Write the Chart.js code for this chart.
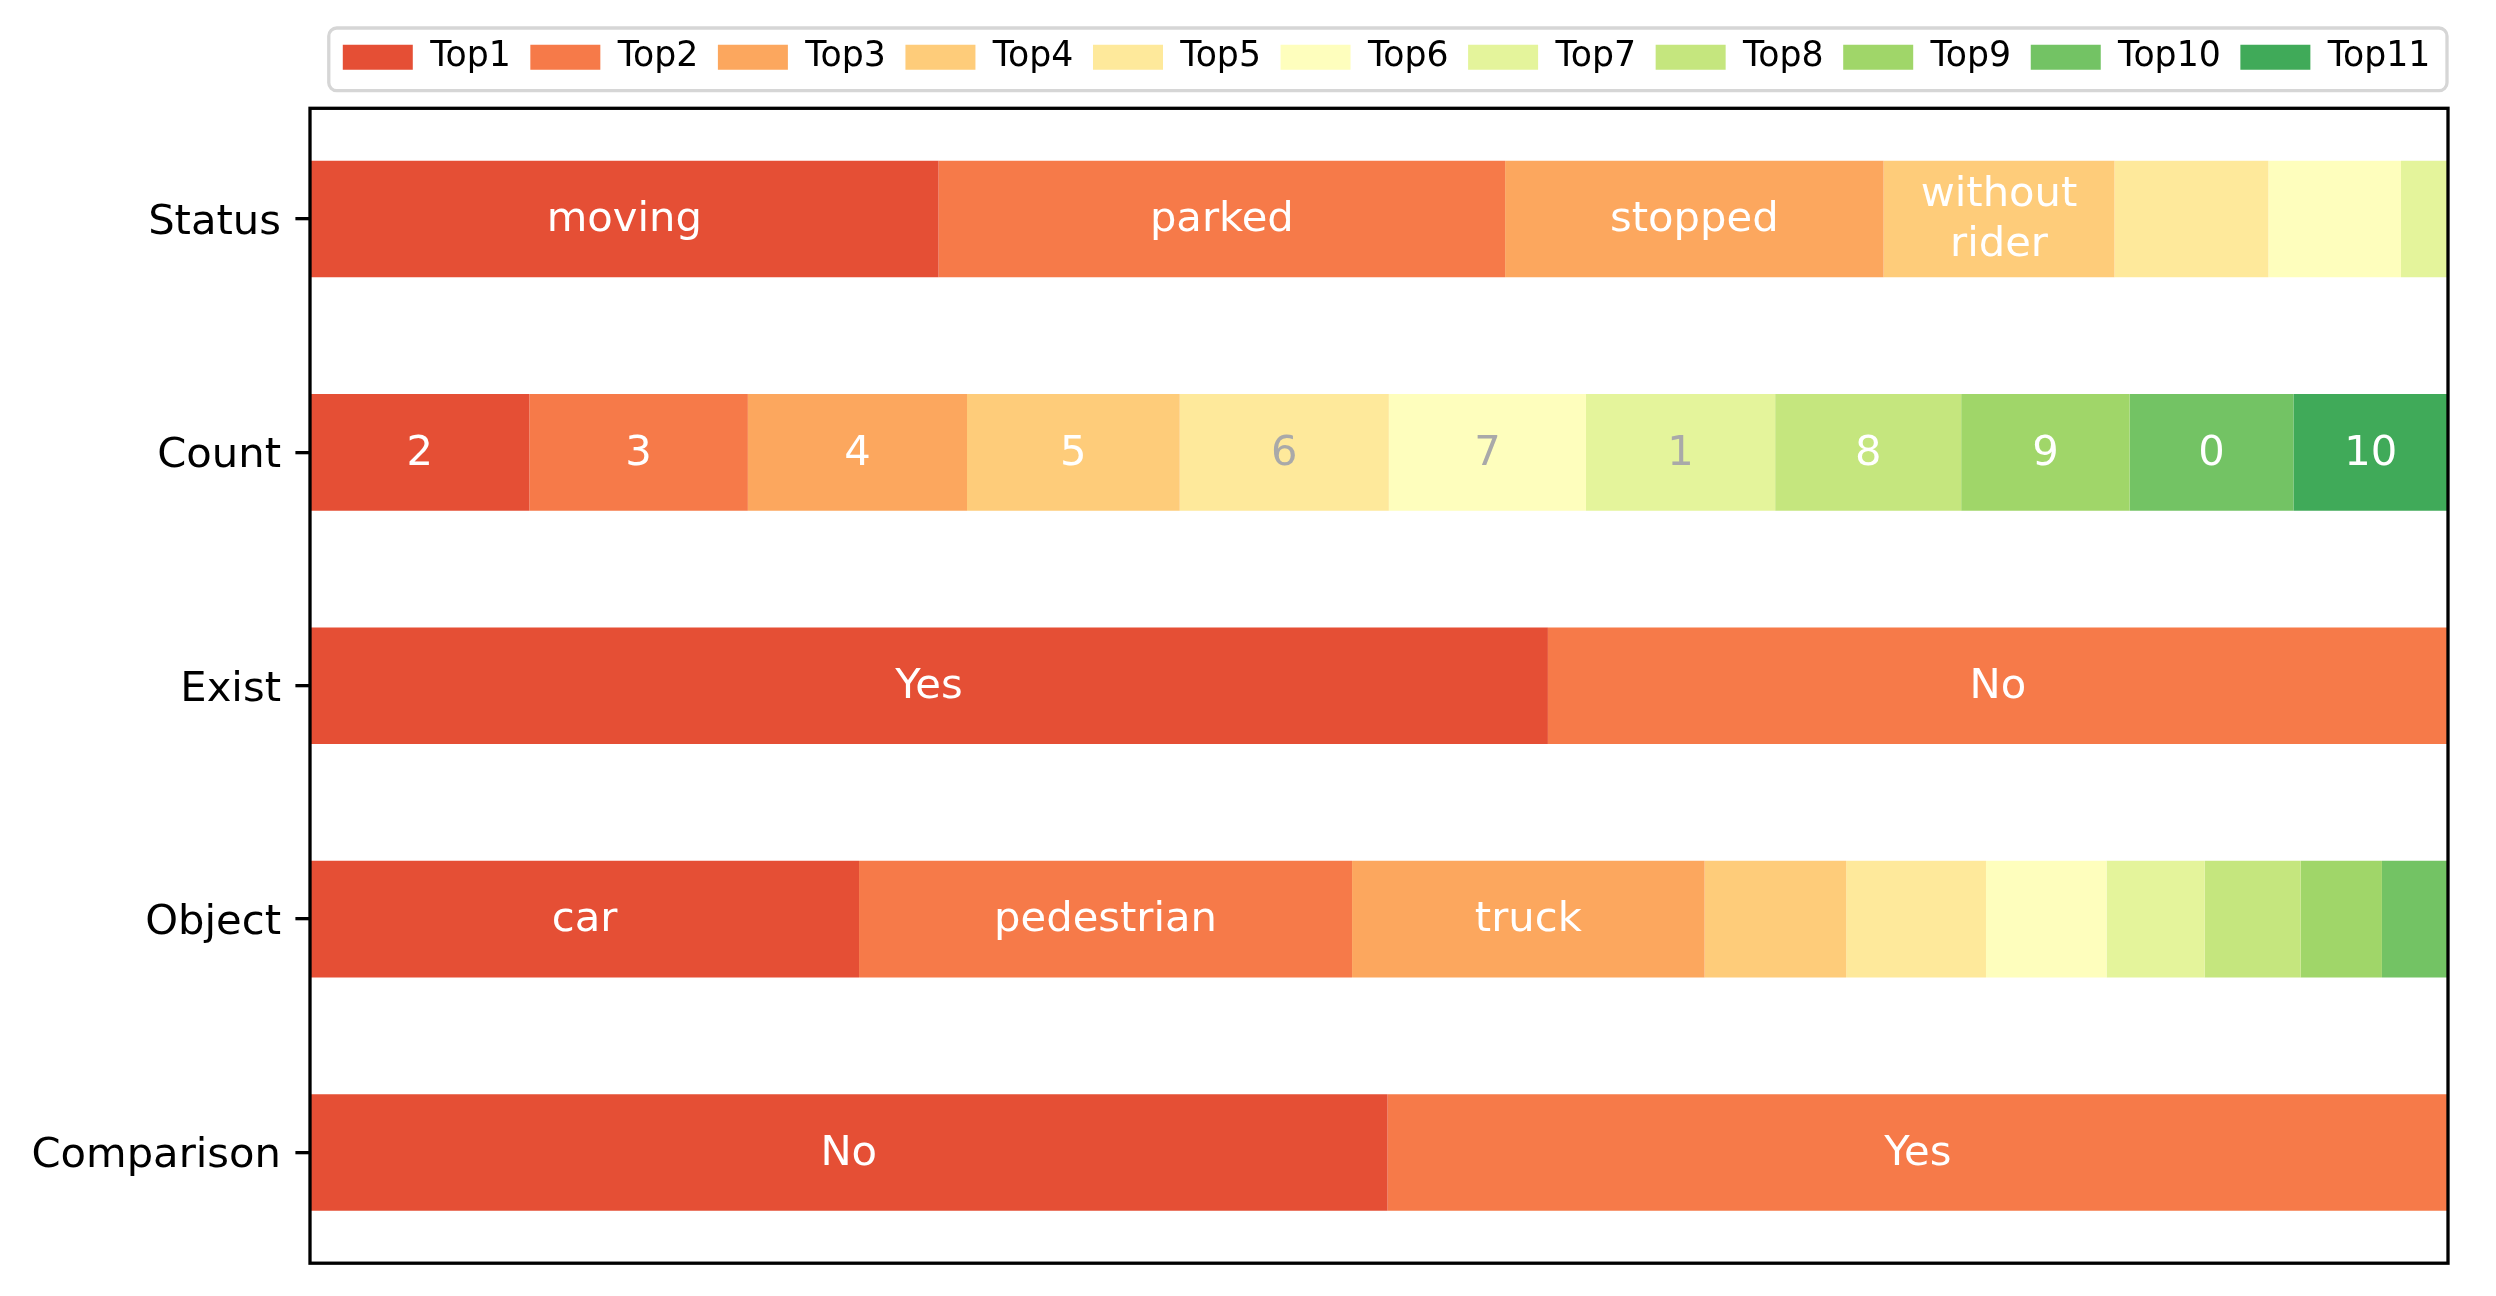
<!DOCTYPE html>
<html lang="en">
<head>
    <meta charset="UTF-8">
    <title>Top-k answer distribution</title>
    <script src="https://cdn.jsdelivr.net/npm/chart.js"></script>
    <style>
        html, body { margin: 0; padding: 0; background: #fff; }
        #wrap { width: 2496px; height: 1296px; }
    </style>
</head>
<body>
    <div id="wrap"><canvas id="chart" width="2496" height="1296"></canvas></div>

    <script>
        // categories (rows, top to bottom) and series
        const categories = ['Status', 'Count', 'Exist', 'Object', 'Comparison'];
        const seriesNames = ['Top1', 'Top2', 'Top3', 'Top4', 'Top5', 'Top6', 'Top7', 'Top8', 'Top9', 'Top10', 'Top11'];

        // share of each answer per row (percent)
        const statusValues = [29.4, 26.5, 17.7, 10.8, 7.2, 6.2, 2.2];
        const countValues = [10.26, 10.22, 10.25, 9.95, 9.78, 9.22, 8.85, 8.70, 7.88, 7.66, 7.23];
        const existValues = [57.9, 42.1];
        const objectValues = [25.68, 23.06, 16.49, 6.62, 6.54, 5.64, 4.59, 4.49, 3.80, 3.08];
        const comparisonValues = [50.4, 49.6];

        // text written inside each segment
        const statusLabels = ['moving', 'parked', 'stopped', 'without\nrider', '', '', ''];
        const countLabels = ['2', '3', '4', '5', '6', '7', '1', '8', '9', '0', '10'];
        const existLabels = ['Yes', 'No'];
        const objectLabels = ['car', 'pedestrian', 'truck', '', '', '', '', '', '', ''];
        const comparisonLabels = ['No', 'Yes'];

        // RdYlGn sampled from 0.15 to 0.85
        const colors = ['#e54f35', '#f67a49', '#fca75e', '#fecc7a', '#fee99b', '#fefebd',
                        '#e4f49b', '#c5e67e', '#a0d669', '#73c364', '#40aa59'];

        const rowValues = [statusValues, countValues, existValues, objectValues, comparisonValues];
        const rowLabels = [statusLabels, countLabels, existLabels, objectLabels, comparisonLabels];

        const FONT = 'DejaVu Sans';

        function textColorFor(hex) {
            const r = parseInt(hex.slice(1, 3), 16) / 255;
            const g = parseInt(hex.slice(3, 5), 16) / 255;
            const b = parseInt(hex.slice(5, 7), 16) / 255;
            return r * g * b < 0.5 ? '#ffffff' : '#a9a9a9';
        }

        const datasets = seriesNames.map((name, k) => ({
            label: name,
            data: rowValues.map(v => (v[k] === undefined ? null : v[k])),
            backgroundColor: colors[k],
            borderWidth: 0,
            categoryPercentage: 1.0,
            barPercentage: 0.5
        }));

        // segment labels
        const segmentText = {
            id: 'segmentText',
            afterDatasetsDraw(chart) {
                const ctx = chart.ctx;
                ctx.save();
                ctx.font = '41.7px "' + FONT + '"';
                ctx.textAlign = 'center';
                ctx.textBaseline = 'middle';
                chart.data.datasets.forEach((ds, k) => {
                    const meta = chart.getDatasetMeta(k);
                    meta.data.forEach((el, j) => {
                        const txt = rowLabels[j][k];
                        if (!txt || ds.data[j] == null) return;
                        const {x, base, y} = el.getProps(['x', 'base', 'y'], true);
                        const cx = (x + base) / 2;
                        const lines = txt.split('\n');
                        const lh = 50;
                        ctx.fillStyle = textColorFor(colors[k]);
                        lines.forEach((ln, i) => {
                            ctx.fillText(ln, cx, y + 1.5 + (i - (lines.length - 1) / 2) * lh);
                        });
                    });
                });
                ctx.restore();
            }
        };

        // axes frame and legend box
        const frames = {
            id: 'frames',
            afterLayout(chart) {
                chart.legend.right += 2;
            },
            afterDraw(chart) {
                const ctx = chart.ctx;
                const a = chart.chartArea;
                ctx.save();
                ctx.strokeStyle = '#000';
                ctx.lineWidth = 3.3;
                ctx.strokeRect(a.left, a.top + 6, a.right - a.left, a.bottom - a.top - 12);

                const hb = chart.legend.legendHitBoxes;
                if (hb && hb.length) {
                    const last = hb[hb.length - 1];
                    const l = hb[0].left - 14;
                    const r = last.left + last.width + 16.6;
                    const t = hb[0].top - 12;
                    const b = hb[0].top + hb[0].height + 16;
                    ctx.strokeStyle = '#d6d6d6';
                    ctx.lineWidth = 3.3;
                    ctx.beginPath();
                    ctx.roundRect(l, t, r - l, b - t, 8);
                    ctx.stroke();
                }
                ctx.restore();
            }
        };

        new Chart(document.getElementById('chart'), {
            type: 'bar',
            data: { labels: categories, datasets: datasets },
            options: {
                indexAxis: 'y',
                responsive: false,
                animation: false,
                devicePixelRatio: 1,
                layout: { padding: { top: 20.4, right: 48, bottom: 26.8, left: 0 } },
                scales: {
                    x: {
                        type: 'linear',
                        stacked: true,
                        min: 0,
                        max: 100,
                        display: false
                    },
                    y: {
                        stacked: true,
                        offset: true,
                        border: { display: false },
                        grid: {
                            display: true,
                            offset: false,
                            drawOnChartArea: false,
                            drawTicks: true,
                            tickLength: 14.6,
                            color: '#000',
                            lineWidth: 3.3
                        },
                        ticks: {
                            color: '#000',
                            padding: 14.4,
                            labelOffset: 4,
                            font: { family: FONT, size: 41.7 }
                        },
                        afterFit: s => {
                            s.width = 310;
                            s.paddingTop = 0;
                            s.paddingBottom = 0;
                        }
                    }
                },
                plugins: {
                    legend: {
                        position: 'top',
                        align: 'end',
                        labels: {
                            boxWidth: 70,
                            boxHeight: 25,
                            padding: 19.6,
                            color: '#000',
                            font: { family: FONT, size: 34.7 }
                        }
                    },
                    // spacer between legend and plot
                    title: {
                        display: true,
                        text: '',
                        weight: 500,
                        font: { size: 10, lineHeight: 1 },
                        padding: { top: 0, bottom: 7.6 }
                    },
                    tooltip: { enabled: false }
                }
            },
            plugins: [segmentText, frames]
        });
    </script>
</body>
</html>
